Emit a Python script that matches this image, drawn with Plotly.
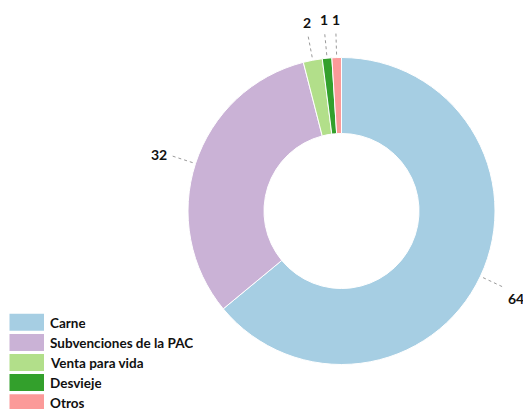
import math
import plotly.graph_objects as go

categories = ["Carne", "Subvenciones de la PAC", "Venta para vida", "Desvieje", "Otros"]
values = [64, 32, 2, 1, 1]
colors = ["#a6cee3", "#cab2d6", "#b2df8a", "#33a02c", "#fb9a99"]

W, H = 523, 409
CX, CY, R = 341.5, 211.0, 153.5
FONT = "Lato"

fig = go.Figure()
fig.add_trace(go.Pie(
    labels=categories, values=values,
    marker=dict(colors=colors, line=dict(color="white", width=1)),
    hole=0.505, sort=False, direction="clockwise", rotation=0,
    textinfo="none", hoverinfo="label+value", showlegend=False,
    domain=dict(x=[(CX - R) / W, (CX + R) / W], y=[1 - (CY + R) / H, 1 - (CY - R) / H]),
))

def px(x, y):
    return x / W, 1 - y / H

shapes = []
annotations = []
total = sum(values)
cum = 0
for cat, v in zip(categories, values):
    mid = (cum + v / 2) / total * 2 * math.pi
    cum += v
    s, c = math.sin(mid), -math.cos(mid)
    r0, r1, rl = R + 3, R + 26, R + 28
    x0, y0 = px(CX + r0 * s, CY + r0 * c)
    x1, y1 = px(CX + r1 * s, CY + r1 * c)
    shapes.append(dict(type="line", xref="paper", yref="paper", x0=x0, y0=y0, x1=x1, y1=y1,
                       line=dict(color="#9a9a9a", width=1, dash="dot")))
    lx, ly = px(CX + rl * s, CY + rl * c)
    xa = "left" if s > 0.3 else ("right" if s < -0.3 else "center")
    ya = "top" if c > 0.35 else ("bottom" if c < -0.35 else "middle")
    annotations.append(dict(x=lx, y=ly, xref="paper", yref="paper", text=str(v), showarrow=False,
                            xanchor=xa, yanchor=ya,
                            font=dict(family=FONT, size=14, color="#111", weight="bold")))

# custom legend
n = len(categories)
for i, (cat, col) in enumerate(zip(categories, colors)):
    top = 313.8 + 20.1 * i
    xa_, ya_ = px(9.5, top)
    xb_, yb_ = px(44, top + 17)
    shapes.append(dict(type="rect", xref="paper", yref="paper", x0=xa_, x1=xb_, y0=yb_, y1=ya_,
                       fillcolor=col, line=dict(width=0), layer="above"))
    tx, ty = px(48.5, top + 8.5)
    annotations.append(dict(x=tx, y=ty, xref="paper", yref="paper", text=cat, showarrow=False,
                            xanchor="left", yanchor="middle",
                            height=(13 if i == n - 1 else 19), borderpad=0, valign="middle",
                            font=dict(family=FONT, size=13.5, color="#111", weight="bold")))

fig.update_layout(
    width=W, height=H, margin=dict(l=0, r=0, t=0, b=0),
    paper_bgcolor="white", plot_bgcolor="white",
    shapes=shapes, annotations=annotations,
)
fig.write_html("out.html", config={"displayModeBar": False},
               post_script="document.body.style.margin='0';document.body.style.overflow='hidden';")
